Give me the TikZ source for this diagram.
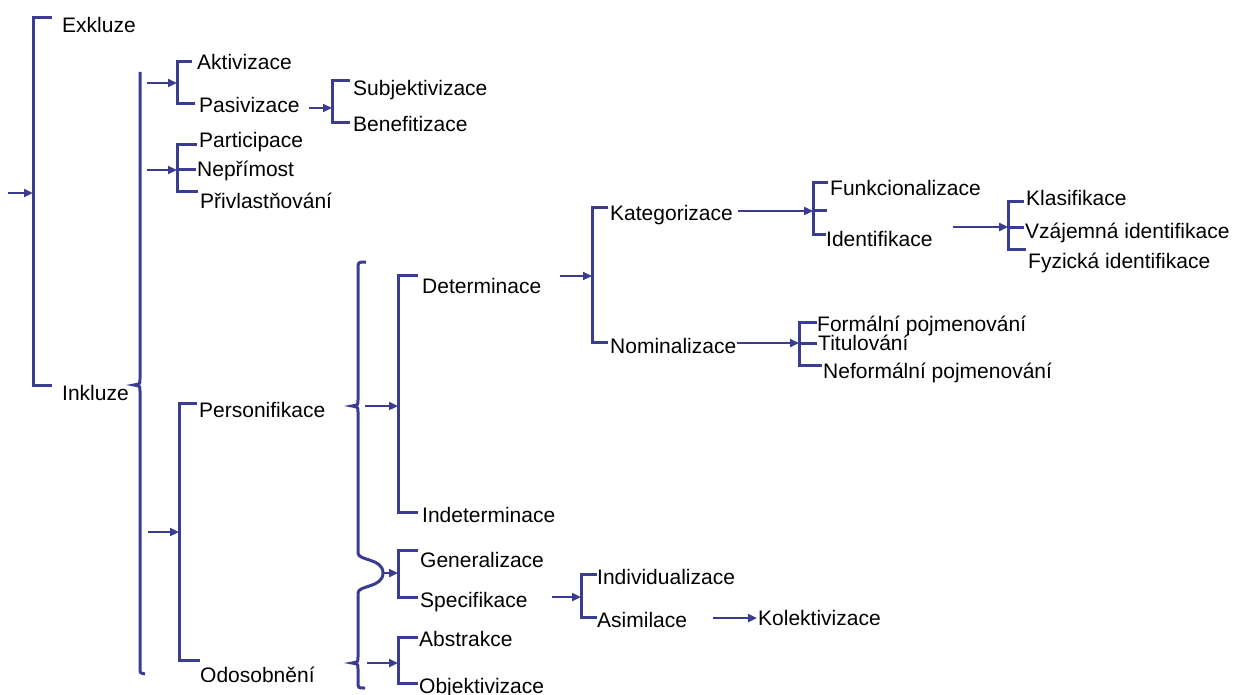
\documentclass[tikz,border=0pt]{standalone}
\usepackage{fontspec}
\setmainfont{Liberation Sans}
\usetikzlibrary{arrows.meta}
\definecolor{lc}{RGB}{58,60,145}
\begin{document}
\begin{tikzpicture}[x=1pt,y=-1pt,
  ln/.style={draw=lc, line width=3pt},
  arr/.style={draw=lc, line width=2.8pt, -{Triangle[length=9pt,width=8pt]}},
  txt/.style={anchor=base west, inner sep=0pt, font=\fontsize{21}{24}\selectfont}]
\useasboundingbox[fill=white] (0,0) rectangle (1239,695);
% text nodes
\node[txt] (exk) at (62,33) {Exkluze};
\node[txt] (ink) at (62,400) {Inkluze};
\node[txt] (akt) at (197,70) {Aktivizace};
\node[txt] (pas) at (199,113) {Pasivizace};
\node[txt] (sub) at (353,96) {Subjektivizace};
\node[txt] (ben) at (353,132) {Benefitizace};
\node[txt] (par) at (199,148) {Participace};
\node[txt] (nep) at (197,177) {Nepřímost};
\node[txt] (pri) at (200,208) {Přivlastňování};
\node[txt] (per) at (199,417) {Personifikace};
\node[txt] (odo) at (200,682) {Odosobnění};
\node[txt] (det) at (422,293) {Determinace};
\node[txt] (ind) at (422,522) {Indeterminace};
\node[txt] (gen) at (420,567) {Generalizace};
\node[txt] (spe) at (420,607) {Specifikace};
\node[txt] (abs) at (419,646) {Abstrakce};
\node[txt] (obj) at (419,693) {Objektivizace};
\node[txt] (kat) at (610,220) {Kategorizace};
\node[txt] (nom) at (610,353) {Nominalizace};
\node[txt] (fun) at (830,196) {Funkcionalizace};
\node[txt] (ide) at (826,246) {Identifikace};
\node[txt] (for) at (817,331) {Formální pojmenování};
\node[txt] (tit) at (818,350) {Titulování};
\node[txt] (nef) at (823,378) {Neformální pojmenování};
\node[txt] (kla) at (1026,205) {Klasifikace};
\node[txt] (vza) at (1025,238) {Vzájemná identifikace};
\node[txt] (fyz) at (1028,268) {Fyzická identifikace};
\node[txt] (indv) at (597,584) {Individualizace};
\node[txt] (asi) at (597,627) {Asimilace};
\node[txt] (kol) at (758,625) {Kolektivizace};
% named points
\coordinate (in0) at (8,193);   \coordinate (s0) at (33,193);
\coordinate (bi1) at (147,83);  \coordinate (s1) at (177,83);
\coordinate (bi2) at (147,170); \coordinate (s2) at (177,170);
\coordinate (bi3) at (148,532); \coordinate (s3) at (179,532);
\coordinate (pa0) at (309,108); \coordinate (s4) at (332,108);
\coordinate (bp1) at (365,406); \coordinate (s5) at (398,406);
\coordinate (arc) at (383,573); \coordinate (s6) at (398,573);
\coordinate (bp2) at (367,663); \coordinate (s7) at (398,663);
\coordinate (de0) at (560,276); \coordinate (s8) at (592,276);
\coordinate (ka0) at (738,211); \coordinate (s9) at (813,211);
\coordinate (id0) at (953,227); \coordinate (s10) at (1008,227);
\coordinate (no0) at (737,343); \coordinate (s11) at (799,343);
\coordinate (sp0) at (552,597); \coordinate (s12) at (581,597);
\coordinate (as0) at (713,618); \coordinate (ko0) at (757,618);
% brackets
\draw[ln] (52,18) -| (33,385) -- (52,385);
\draw[ln] (192,62) -| (177,104) -- (195,104);
\draw[ln] (350,81) -| (332,123) -- (350,123);
\draw[ln] (197,145) -| (177,192) -- (198,192);
\draw[ln] (s2) -- (196,170);
\draw[ln] (197,403) -| (179,660) -- (200,660);
\draw[ln] (418,275) -| (398,512) -- (418,512);
\draw[ln] (418,550) -| (398,597) -- (418,597);
\draw[ln] (418,637) -| (398,683) -- (418,683);
\draw[ln] (608,208) -| (592,342) -- (608,342);
\draw[ln] (828,183) -| (813,234) -- (826,234);
\draw[ln] (s9) -- (827,211);
\draw[ln] (1024,202) -| (1008,249) -- (1026,249);
\draw[ln] (s10) -- (1024,227);
\draw[ln] (817,322) -| (799,365) -- (822,365);
\draw[ln] (s11) -- (817,343);
\draw[ln] (597,574) -| (581,617) -- (597,617);
% braces
\draw[ln] (140,72) -- (140,379) .. controls (140,384) .. (134,385)
  .. controls (140,386) .. (140,391) -- (140,669) .. controls (140,673) .. (145,674);
\draw[ln] (366,262) .. controls (358,262) .. (358,269) -- (358,400)
  .. controls (358,405) .. (352,406) .. controls (358,407) .. (358,412) -- (358,553)
  .. controls (358,561) and (383,558) .. (arc)
  .. controls (383,588) and (358,585) .. (358,593) -- (358,657)
  .. controls (358,662) .. (352,663) .. controls (358,664) .. (358,669) -- (358,682)
  .. controls (358,688) .. (365,688);
% arrows
\draw[arr] (in0) -- (s0);
\draw[arr] (bi1) -- (s1);
\draw[arr] (bi2) -- (s2);
\draw[arr] (bi3) -- (s3);
\draw[arr] (pa0) -- (s4);
\draw[arr] (bp1) -- (s5);
\draw[arr] (arc) -- (s6);
\draw[arr] (bp2) -- (s7);
\draw[arr] (de0) -- (s8);
\draw[arr] (ka0) -- (s9);
\draw[arr] (id0) -- (s10);
\draw[arr] (no0) -- (s11);
\draw[arr] (sp0) -- (s12);
\draw[arr] (as0) -- (ko0);
\end{tikzpicture}
\end{document}
